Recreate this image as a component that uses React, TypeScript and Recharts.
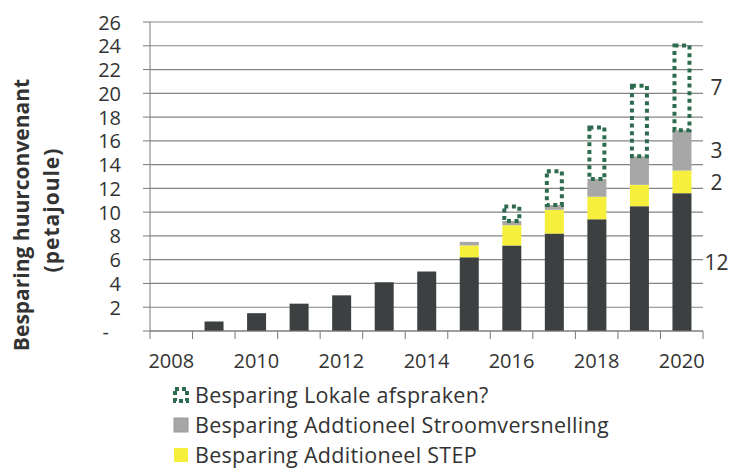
import React from 'react';
import { BarChart, Bar, XAxis, YAxis, CartesianGrid, Legend, LabelList, Label, Rectangle } from 'recharts';

const years = [2008, 2009, 2010, 2011, 2012, 2013, 2014, 2015, 2016, 2017, 2018, 2019, 2020];
const baseValues = [0, 0.8, 1.5, 2.3, 3.0, 4.1, 5.0, 6.2, 7.2, 8.2, 9.4, 10.5, 11.6];
const stepValues = [0, 0, 0, 0, 0, 0, 0, 1.0, 1.7, 2.0, 1.9, 1.8, 1.9];
const stroomValues = [0, 0, 0, 0, 0, 0, 0, 0.3, 0.35, 0.4, 1.5, 2.4, 3.4];
const lokaleValues = [0, 0, 0, 0, 0, 0, 0, 0, 1.4, 3.0, 4.5, 6.1, 7.3];
// annotations written to the right of the last bar
const annotBase = 12;
const annotStep = 2;
const annotStroom = 3;
const annotLokale = 7;
const yTicks = [0, 2, 4, 6, 8, 10, 12, 14, 16, 18, 20, 22, 24, 26];
const legendNames = [
  'Besparing Lokale afspraken?',
  'Besparing Addtioneel Stroomversnelling',
  'Besparing Additioneel STEP',
];

const lastIndex = years.length - 1;
const data = years.map((y, i) => ({
  year: y,
  base: baseValues[i],
  step: stepValues[i],
  stroom: stroomValues[i],
  lokale: lokaleValues[i],
  baseLbl: i === lastIndex ? annotBase : null,
  stepLbl: i === lastIndex ? annotStep : null,
  stroomLbl: i === lastIndex ? annotStroom : null,
  lokaleLbl: i === lastIndex ? annotLokale : null,
}));

const W = 729;
const H = 470;
const M = { top: 22, right: 26, left: 0, bottom: 0 };
const Y_AXIS_W = 150;
const X_AXIS_H = 139;
const BAND = (W - M.left - M.right - Y_AXIS_W) / years.length;
const TEXT = '#333333';
const AXIS = '#7a7a7a';
const GRID = '#858585';
const DARK = '#3c4040';
const YELLOW = '#f6f03c';
const GRAY = '#a7a7a7';
const GREEN = '#2c6b4d';
const FONT = '"Open Sans", sans-serif';

const XTick = (props: any) => {
  const { x, y, payload, index } = props;
  const year = Number(payload.value);
  return (
    <g>
      {index === 0 && <line x1={x - BAND / 2} x2={x - BAND / 2} y1={y - 8} y2={y} stroke={AXIS} />}
      <line x1={x + BAND / 2} x2={x + BAND / 2} y1={y - 8} y2={y} stroke={AXIS} />
      {year % 2 === 0 && (
        <text x={x} y={y + 21} textAnchor="middle" dominantBaseline="central" fill={TEXT} fontSize={20} fontFamily={FONT}>
          {year}
        </text>
      )}
    </g>
  );
};

const YTick = (props: any) => {
  const { x, y, payload } = props;
  const v = Number(payload.value);
  return (
    <text x={v === 0 ? x - 12 : x} y={y} textAnchor="end" dominantBaseline="central" fill={TEXT} fontSize={20} fontFamily={FONT}>
      {v === 0 ? '-' : v}
    </text>
  );
};

const YTitle = () => (
  <g fontFamily={FONT} fontWeight="bold" fontSize={21} fill={TEXT}>
    <text x={21} y={215} transform="rotate(-90, 21, 215)" textAnchor="middle" dominantBaseline="central">
      Besparing huurconvenant
    </text>
    <text x={51} y={210} transform="rotate(-90, 51, 210)" textAnchor="middle" dominantBaseline="central" letterSpacing={1}>
      (petajoule)
    </text>
  </g>
);

const RightLabel = (props: any) => {
  const { x, y, width, height, value } = props;
  if (value === null || value === undefined || value === '') return null;
  return (
    <text x={Number(x) + Number(width) + 25} y={Number(y) + Number(height) / 2} textAnchor="middle" dominantBaseline="central" fill={TEXT} fontSize={21} fontFamily={FONT}>
      {value}
    </text>
  );
};

const LokaleShape = (props: any) => {
  const { x, y, width, height } = props;
  if (!height) return null;
  return (
    <Rectangle x={x + 2} y={y + 2} width={width - 4} height={height - 2} fill="none" stroke={GREEN} strokeWidth={4} strokeDasharray="4 3.6" />
  );
};

const LegendContent = () => {
  const icons = [
    <svg width={16} height={16} key="l">
      <rect x={2} y={2} width={12} height={12} fill="none" stroke={GREEN} strokeWidth={4} strokeDasharray="4 3" />
    </svg>,
    <svg width={16} height={16} key="s">
      <rect x={1} y={1} width={14} height={14} fill={GRAY} stroke="#999" />
    </svg>,
    <svg width={16} height={16} key="t">
      <rect x={1} y={1} width={14} height={14} fill={YELLOW} />
    </svg>,
  ];
  return (
    <div style={{ fontFamily: FONT, fontSize: 21.5, letterSpacing: 0.3, lineHeight: '26px', color: TEXT }}>
      {legendNames.map((n, i) => (
        <div
          key={n}
          style={{ display: 'flex', alignItems: 'center', height: 26, marginBottom: i < legendNames.length - 1 ? 4 : 0, whiteSpace: 'nowrap' }}
        >
          <span style={{ width: 22, display: 'inline-flex' }}>{icons[i]}</span>
          <span>{n}</span>
        </div>
      ))}
    </div>
  );
};

export default function App() {
  return (
    <div style={{ position: 'absolute', left: 0, top: 0, width: W, height: H, background: '#fff', fontFamily: FONT, overflow: 'hidden' }}>
      <BarChart width={W} height={H} data={data} margin={M} barSize={19}>
        <CartesianGrid horizontal vertical={false} stroke={GRID} strokeWidth={1.2} />
        <XAxis
          dataKey="year"
          height={X_AXIS_H}
          stroke={AXIS}
          tickLine={false}
          tick={<XTick />}
          interval={0}
          tickSize={8}
          tickMargin={0}
        />
        <YAxis
          width={Y_AXIS_W}
          domain={[0, 26]}
          ticks={yTicks}
          interval={0}
          stroke={AXIS}
          tickSize={7}
          tickMargin={22}
          tick={<YTick />}
        >
          <Label content={<YTitle />} />
        </YAxis>
        <Legend
          layout="vertical"
          align="center"
          verticalAlign="middle"
          content={<LegendContent />}
          wrapperStyle={{ position: 'absolute', left: 173, top: 382, width: 'auto', height: 'auto' }}
        />
        <Bar dataKey="base" stackId="a" fill={DARK} isAnimationActive={false}>
          <LabelList dataKey="baseLbl" content={<RightLabel />} />
        </Bar>
        <Bar dataKey="step" stackId="a" fill={YELLOW} isAnimationActive={false}>
          <LabelList dataKey="stepLbl" content={<RightLabel />} />
        </Bar>
        <Bar dataKey="stroom" stackId="a" fill={GRAY} isAnimationActive={false}>
          <LabelList dataKey="stroomLbl" content={<RightLabel />} />
        </Bar>
        <Bar dataKey="lokale" stackId="a" fill="none" shape={<LokaleShape />} isAnimationActive={false}>
          <LabelList dataKey="lokaleLbl" content={<RightLabel />} />
        </Bar>
      </BarChart>
    </div>
  );
}
